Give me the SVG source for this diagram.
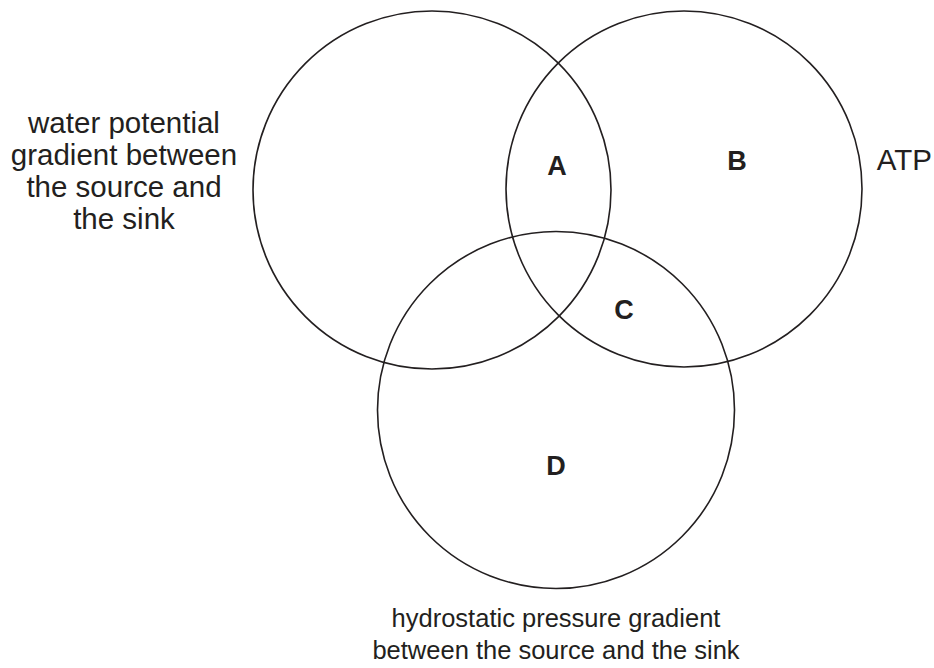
<svg xmlns="http://www.w3.org/2000/svg" width="934" height="668" viewBox="0 0 934 668">
<style>
.c{fill:none;stroke:#231f20;stroke-width:1.6}
.t{font-family:"Liberation Sans",Arial,sans-serif;font-size:29.5px;fill:#231f20;text-anchor:middle}
.b{font-family:"Liberation Sans",Arial,sans-serif;font-size:25.5px;fill:#231f20;text-anchor:middle}
.l{font-family:"Liberation Sans",Arial,sans-serif;font-size:27px;font-weight:bold;fill:#231f20;text-anchor:middle}
</style>
<rect width="934" height="668" fill="#fff"/>
<g id="circle-water"><circle class="c" cx="432" cy="190" r="179"/></g>
<g id="circle-atp"><circle class="c" cx="684" cy="189" r="178"/></g>
<g id="circle-hydro"><circle class="c" cx="556" cy="410" r="178.5"/></g>
<g id="label-water">
<text class="t" x="124" y="133">water potential</text>
<text class="t" x="124" y="165">gradient between</text>
<text class="t" x="124" y="197">the source and</text>
<text class="t" x="124" y="229">the sink</text>
</g>
<g id="label-atp"><text class="t" x="932" y="170" style="text-anchor:end">ATP</text></g>
<g id="label-hydro">
<text class="b" x="556" y="627">hydrostatic pressure gradient</text>
<text class="b" x="556" y="659">between the source and the sink</text>
</g>
<g id="region-A"><text class="l" x="557" y="175">A</text></g>
<g id="region-B"><text class="l" x="737" y="170">B</text></g>
<g id="region-C"><text class="l" x="624" y="319">C</text></g>
<g id="region-D"><text class="l" x="556" y="475">D</text></g>
</svg>
